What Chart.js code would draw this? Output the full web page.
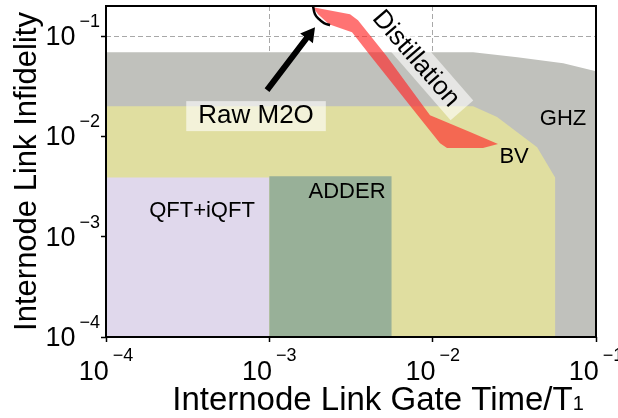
<!DOCTYPE html>
<html>
<head>
<meta charset="utf-8">
<script src="https://cdn.jsdelivr.net/npm/chart.js@4.4.0/dist/chart.umd.min.js"></script>
<style>
  html, body { margin: 0; padding: 0; background: #fff; }
</style>
</head>
<body>
<canvas id="c" width="618" height="418"></canvas>
<script>
// decade ticks on both axes
var xTicks = [1e-4, 1e-3, 1e-2, 1e-1];
var yTicks = [1e-4, 1e-3, 1e-2, 1e-1];

// region outlines: gate time / T1 (x) vs link infidelity (y)
var ghzX = [1e-4, 1e-4, 0.0177, 0.033, 0.063, 0.1, 0.1];
var ghzY = [1e-4, 0.069, 0.069, 0.0618, 0.0538, 0.0448, 1e-4];
var bvX = [1e-4, 1e-4, 0.0177, 0.0248, 0.0436, 0.0562, 0.0562];
var bvY = [1e-4, 0.020, 0.020, 0.0156, 0.0078, 0.0039, 1e-4];
var qftX = [1e-4, 1e-4, 1e-3, 1e-3];
var qftY = [1e-4, 0.0039, 0.0039, 1e-4];
var adderX = [1e-3, 1e-3, 0.0056, 0.0056];
var adderY = [1e-4, 0.004, 0.004, 1e-4];

// distillation band (outline, clockwise)
var distX = [0.001851, 0.003119, 0.00349, 0.00518, 0.009632, 0.01693, 0.02512,
             0.02033, 0.01224, 0.01109, 0.008367, 0.004134, 0.003208, 0.002319, 0.001986];
var distY = [0.1945, 0.1657, 0.1443, 0.0646, 0.01632, 0.01105, 0.00839,
             0.00765, 0.00765, 0.00858, 0.01523, 0.0646, 0.1096, 0.1317, 0.1657];

// raw M2O curve
var rawX = [0.001851, 0.001904, 0.002014, 0.002162, 0.002352];
var rawY = [0.199, 0.1657, 0.1477, 0.1348, 0.1287];

// text labels
var labelText = ['GHZ', 'BV', 'ADDER', 'QFT+iQFT'];
var labelX = [0.0628, 0.0315, 0.00299, 0.000387];
var labelY = [0.01297, 0.00542, 0.00243, 0.00157];

// annotations
var arrowX = [0.000968, 0.001904];
var arrowY = [0.029, 0.123];
var rawLabelX = 0.000829, rawLabelY = 0.01358;
var distLabelX = 0.00796, distLabelY = 0.0604;

var FONT = '"Liberation Sans", Arial, sans-serif';

function pts(xs, ys) {
  return xs.map(function (v, i) { return { x: v, y: ys[i] }; });
}

function region(data, color, order) {
  return {
    data: data,
    showLine: true,
    fill: 'shape',
    backgroundColor: color,
    borderColor: 'rgba(0,0,0,0)',
    borderWidth: 1,
    pointRadius: 0,
    order: order
  };
}

var decor = {
  id: 'decor',
  afterDatasetsDraw: function (chart) {
    var ctx = chart.ctx, xs = chart.scales.x, ys = chart.scales.y, a = chart.chartArea;
    ctx.save();
    ctx.beginPath();
    ctx.rect(a.left, a.top, a.right - a.left, a.bottom - a.top);
    ctx.clip();

    // region names
    ctx.fillStyle = '#000';
    ctx.textAlign = 'center';
    ctx.textBaseline = 'alphabetic';
    ctx.font = '22px ' + FONT;
    for (var i = 0; i < labelText.length; i++) {
      ctx.fillText(labelText[i], xs.getPixelForValue(labelX[i]), ys.getPixelForValue(labelY[i]));
    }

    // Raw M2O box + text
    ctx.font = '26px ' + FONT;
    var rx = xs.getPixelForValue(rawLabelX), ry = ys.getPixelForValue(rawLabelY);
    var rw = ctx.measureText('Raw M2O').width;
    ctx.fillStyle = 'rgba(255,255,255,0.6)';
    ctx.fillRect(rx - rw / 2 - 12, ry - 22, rw + 24, 30);
    ctx.fillStyle = '#000';
    ctx.fillText('Raw M2O', rx, ry);

    // Distillation rotated box + text
    var dx = xs.getPixelForValue(distLabelX), dy = ys.getPixelForValue(distLabelY);
    ctx.save();
    ctx.translate(dx, dy);
    ctx.rotate(49 * Math.PI / 180);
    var dw = ctx.measureText('Distillation').width;
    ctx.fillStyle = 'rgba(255,255,255,0.6)';
    ctx.fillRect(-dw / 2 - 10, -15, dw + 20, 30);
    ctx.fillStyle = '#000';
    ctx.textBaseline = 'middle';
    ctx.fillText('Distillation', 0, 1);
    ctx.restore();

    // arrow
    var x0 = xs.getPixelForValue(arrowX[0]), y0 = ys.getPixelForValue(arrowY[0]);
    var x1 = xs.getPixelForValue(arrowX[1]), y1 = ys.getPixelForValue(arrowY[1]);
    var ang = Math.atan2(y1 - y0, x1 - x0), L = Math.hypot(x1 - x0, y1 - y0);
    var hl = 14, hw = 8, sw = 3;
    ctx.save();
    ctx.translate(x0, y0);
    ctx.rotate(ang);
    ctx.fillStyle = '#000';
    ctx.beginPath();
    ctx.moveTo(0, -sw);
    ctx.lineTo(L - hl, -sw);
    ctx.lineTo(L - hl, -hw);
    ctx.lineTo(L, 0);
    ctx.lineTo(L - hl, hw);
    ctx.lineTo(L - hl, sw);
    ctx.lineTo(0, sw);
    ctx.closePath();
    ctx.fill();
    ctx.restore();

    ctx.restore();
  },
  afterDraw: function (chart) {
    var ctx = chart.ctx, xs = chart.scales.x, ys = chart.scales.y, a = chart.chartArea;
    ctx.save();
    // frame
    ctx.strokeStyle = '#000';
    ctx.lineWidth = 2;
    ctx.strokeRect(a.left, a.top, a.right - a.left, a.bottom - a.top);

    // tick labels as 10^n
    ctx.fillStyle = '#000';
    ctx.textAlign = 'left';
    ctx.textBaseline = 'alphabetic';
    var big = '27px ' + FONT, small = '18px ' + FONT, gap = 4;
    function parts(v) {
      return '\u2212' + Math.abs(Math.round(Math.log10(v)));
    }
    xTicks.forEach(function (v) {
      var px = xs.getPixelForValue(v), e = parts(v);
      ctx.font = big; var w1 = ctx.measureText('10').width;
      ctx.font = small; var w2 = ctx.measureText(e).width;
      var s = px - (w1 + w2 + gap) / 2;
      ctx.font = big; ctx.fillText('10', s, 380);
      ctx.font = small; ctx.fillText(e, s + w1 + gap, 361);
    });
    yTicks.forEach(function (v) {
      var py = ys.getPixelForValue(v), e = parts(v);
      ctx.font = big; var w1 = ctx.measureText('10').width;
      ctx.font = small; var w2 = ctx.measureText(e).width;
      var s = 100 - (w1 + w2 + gap);
      ctx.font = big; ctx.fillText('10', s, py + 9);
      ctx.font = small; ctx.fillText(e, s + w1 + gap, py - 9);
    });

    // axis titles
    ctx.font = '33px ' + FONT;
    var t1 = 'Internode Link Gate Time/T';
    var tw = ctx.measureText(t1).width;
    ctx.font = '20px ' + FONT;
    var sw1 = ctx.measureText('1').width;
    var tx = 378 - (tw + sw1) / 2;
    ctx.font = '33px ' + FONT;
    ctx.fillText(t1, tx, 410);
    ctx.font = '20px ' + FONT;
    ctx.fillText('1', tx + tw, 410);

    ctx.save();
    ctx.translate(27, (a.top + a.bottom) / 2);
    ctx.rotate(-Math.PI / 2);
    ctx.font = '31px ' + FONT;
    ctx.textAlign = 'center';
    ctx.textBaseline = 'middle';
    ctx.fillText('Internode Link Infidelity', 0, 0);
    ctx.restore();

    ctx.restore();
  }
};

new Chart(document.getElementById('c'), {
  type: 'scatter',
  data: {
    datasets: [
      region(pts(ghzX, ghzY), '#c0c1bc', 10),
      region(pts(bvX, bvY), '#e0dea0', 9),
      region(pts(qftX, qftY), '#e0d8ec', 8),
      region(pts(adderX, adderY), '#98b098', 7),
      region(pts(distX, distY), 'rgba(255,40,40,0.65)', 6),
      {
        data: pts(rawX, rawY),
        showLine: true,
        fill: false,
        borderColor: '#000',
        borderWidth: 2.5,
        tension: 0.4,
        pointRadius: 0,
        order: 1
      }
    ]
  },
  options: {
    responsive: false,
    animation: false,
    layout: { padding: { top: 6, right: 22, left: 0, bottom: 0 } },
    plugins: { legend: { display: false }, tooltip: { enabled: false } },
    scales: {
      x: {
        type: 'logarithmic',
        min: 1e-4,
        max: 1e-1,
        afterBuildTicks: function (s) { s.ticks = xTicks.map(function (v) { return { value: v }; }); },
        afterFit: function (s) { s.height = 81; },
        ticks: { display: false },
        grid: { color: '#a8a8a8', lineWidth: 1, tickLength: 5, tickColor: '#000', tickWidth: 1.5, tickBorderDash: [] },
        border: { display: false, dash: [5, 3] }
      },
      y: {
        type: 'logarithmic',
        min: 1e-4,
        max: 0.2,
        afterBuildTicks: function (s) { s.ticks = yTicks.map(function (v) { return { value: v }; }); },
        afterFit: function (s) { s.width = 106; },
        ticks: { display: false },
        grid: { color: '#a8a8a8', lineWidth: 1, tickLength: 5, tickColor: '#000', tickWidth: 1.5, tickBorderDash: [] },
        border: { display: false, dash: [5, 3] }
      }
    }
  },
  plugins: [decor]
});
</script>
</body>
</html>
